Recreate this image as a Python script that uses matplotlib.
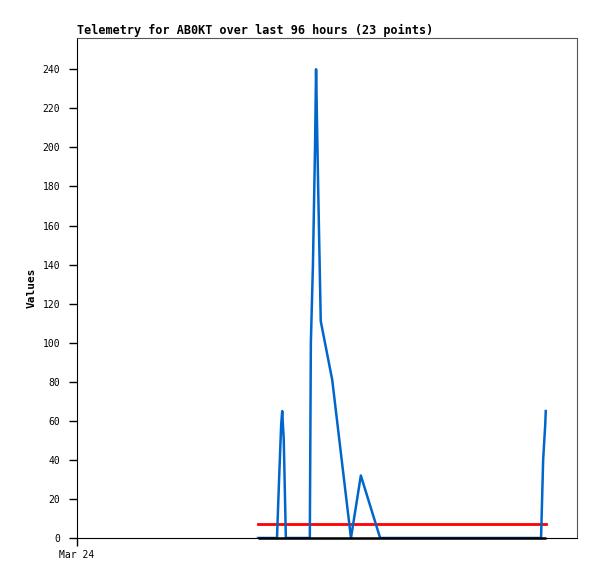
"""Telemetry chart for AB0KT"""
import matplotlib
matplotlib.use("Agg")
import matplotlib.pyplot as plt

# hours since Mar 24 00:00 and telemetry values
hours = [34.75, 38.4, 38.8, 39.2, 39.4, 39.7, 40.1, 44.7, 44.9, 45.3, 45.7, 45.9,
         46.3, 46.8, 49.0, 52.6, 54.5, 58.2, 89.1, 89.3, 89.5, 89.9, 90.0]
values = [0, 0, 30, 58, 65, 50, 0, 0, 100, 140, 200, 240,
          180, 111, 81, 0, 32, 0, 0, 20, 40, 58, 65]
threshold = 7
baseline = 0
x_ticks = [0]
x_tick_labels = ["Mar 24"]
y_ticks = list(range(0, 241, 20))

plt.rcParams['font.family'] = ['DejaVu Sans Mono']

fig = plt.figure(figsize=(5.97, 5.79), dpi=100)
ax = fig.add_axes([77 / 597, 41 / 579, 500 / 597, 500 / 579])

span = [hours[0], hours[-1]]
ax.plot(span, [threshold, threshold], color='#ff0000', lw=2, zorder=2)
ax.plot(hours, values, color='#0066cc', lw=1.8, zorder=2.5)
ax.plot(span, [baseline, baseline], color='black', lw=1.8, zorder=3,
        clip_on=False, solid_capstyle='butt')

ax.set_xlim(0, 96)
ax.set_ylim(0, 256)
ax.set_yticks(y_ticks)
ax.set_xticks(x_ticks)
ax.set_xticklabels(x_tick_labels)
ax.tick_params(axis='y', labelsize=7, length=6, width=1, color='black', pad=6)
ax.tick_params(axis='x', labelsize=7, length=6, width=1, color='black', pad=3)

for side in ('top', 'right'):
    ax.spines[side].set_color('#555555')
for side in ('left', 'bottom'):
    ax.spines[side].set_color('black')

ax.set_ylabel("Values", fontsize=8, fontweight='bold', labelpad=4)
ax.set_title("Telemetry for AB0KT over last 96 hours (23 points)",
             loc='left', fontsize=8.5, fontweight='bold', pad=3)

fig.savefig("out.png", dpi=100)
